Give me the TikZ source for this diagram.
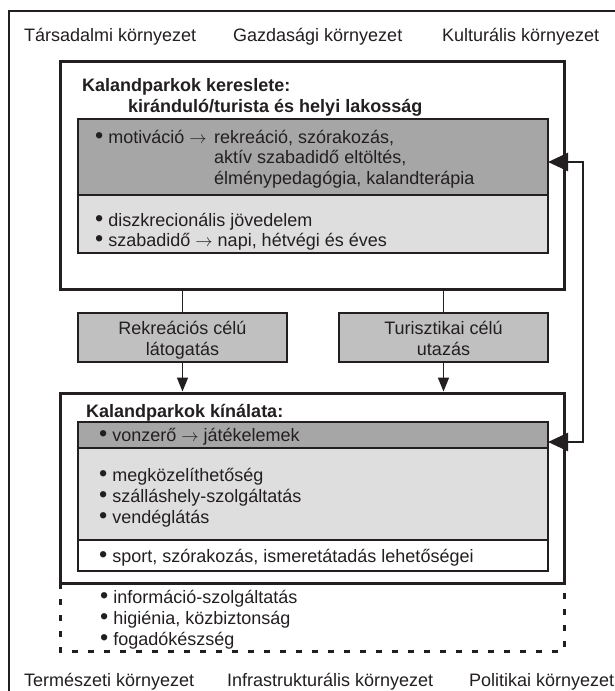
\documentclass[tikz,border=0pt]{standalone}
\usepackage{fontspec}
\setmainfont{Liberation Sans}
\usetikzlibrary{arrows.meta}
\definecolor{ink}{HTML}{231F20}
\definecolor{dgray}{HTML}{A6A6A6}
\definecolor{mgray}{HTML}{C0C0C0}
\definecolor{lgray}{HTML}{DEDEDE}
\newcommand{\bul}{\smash{\raisebox{-0.02em}{\scalebox{1.3}{•}}}}
\newcommand{\arr}{$\rightarrow$}
\begin{document}
\begin{tikzpicture}[x=1pt,y=-1pt,
  font=\fontsize{18}{20.5}\selectfont,
  bigbox/.style={draw=ink, line width=3pt, inner sep=0pt, outer sep=0pt, anchor=north west},
  inbox/.style={draw=ink, line width=1.8pt, inner sep=0pt, outer sep=0pt, anchor=north west},
  txt/.style={anchor=base west, inner sep=0pt, text=ink},
  ctxt/.style={anchor=base, inner sep=0pt, text=ink},
  conn/.style={draw=ink, line width=1.6pt},
  downarrow/.style={conn, -{Triangle[length=14pt,width=11pt]}, shorten >=1.5pt},
  fbarrow/.style={draw=ink, line width=2.6pt, {Triangle[length=20pt,width=18pt]}-{Triangle[length=20pt,width=18pt]}},
  dashline/.style={draw=ink, line width=3pt, dash pattern=on 6pt off 10pt}]
\useasboundingbox (0,0) rectangle (615,691);
\fill[white] (0,0) rectangle (615,691);

% outer frame (right and bottom lie outside the picture)
\coordinate (frtl) at (9,11);
\draw[ink, line width=2pt] (9,720) -- (frtl) -- (640,11);

% environment labels
\node[txt] (t1) at (24,41) {Társadalmi környezet};
\node[txt] (t2) at (233,41) {Gazdasági környezet};
\node[txt] (t3) at (442,41) {Kulturális környezet};
\node[txt] (b1) at (24,686) {Természeti környezet};
\node[txt] (b2) at (227,686) {Infrastrukturális környezet};
\node[txt] (b3) at (469,686) {Politikai környezet};

% demand box
\node[bigbox, minimum width=504pt, minimum height=228pt] (dem) at (60,61) {};
\node[txt, font=\fontsize{18}{20.5}\selectfont\bfseries] (dt1) at (82,91) {Kalandparkok kereslete:};
\node[txt, font=\fontsize{18}{20.5}\selectfont\bfseries] (dt2) at (128,112) {kiránduló/turista és helyi lakosság};
\node[inbox, fill=dgray, minimum width=470pt, minimum height=76pt] (dmot) at (78,119) {};
\node[inbox, fill=lgray, minimum width=470pt, minimum height=58pt] (dinc) at (78,195) {};
\node[txt] (m1) at (95,143) {\bul{} motiváció \arr};
\node[txt] (m2) at (214,143) {rekreáció, szórakozás,};
\node[txt] (m3) at (214,163) {aktív szabadidő eltöltés,};
\node[txt] (m4) at (214,184) {élménypedagógia, kalandterápia};
\node[txt] (i1) at (95,226) {\bul{} diszkrecionális jövedelem};
\node[txt] (i2) at (95,246) {\bul{} szabadidő \arr{} napi, hétvégi és éves};

% middle boxes
\node[inbox, fill=mgray, minimum width=209pt, minimum height=49pt] (rek) at (78,313) {};
\node[inbox, fill=mgray, minimum width=209pt, minimum height=49pt] (tur) at (339,313) {};
\node[ctxt] (r1) at (182.5,334) {Rekreációs célú};
\node[ctxt] (r2) at (182.5,355) {látogatás};
\node[ctxt] (u1) at (443.5,334) {Turisztikai célú};
\node[ctxt] (u2) at (443.5,355) {utazás};

% supply box
\node[bigbox, minimum width=504pt, minimum height=190pt] (sup) at (60,393) {};
\node[txt, font=\fontsize{18}{20.5}\selectfont\bfseries] (st) at (86,417) {Kalandparkok kínálata:};
\node[inbox, fill=dgray, minimum width=470pt, minimum height=26pt] (svon) at (78,422) {};
\node[inbox, fill=lgray, minimum width=470pt, minimum height=92pt] (sacc) at (78,448) {};
\node[inbox, fill=white, minimum width=470pt, minimum height=31pt] (sspo) at (78,540) {};
\node[txt] (v1) at (99,441) {\bul{} vonzerő \arr{} játékelemek};
\node[txt] (a1) at (99,481) {\bul{} megközelíthetőség};
\node[txt] (a2) at (99,502) {\bul{} szálláshely-szolgáltatás};
\node[txt] (a3) at (99,523) {\bul{} vendéglátás};
\node[txt] (p1) at (99,562) {\bul{} sport, szórakozás, ismeretátadás lehetőségei};

% dashed extension
\coordinate (dbot) at (0,651);
\draw[dashline] (sup.south west) -- (sup.south west |- dbot) -- (sup.south east |- dbot) -- (sup.south east);
\node[txt] (x1) at (100,603) {\bul{} információ-szolgáltatás};
\node[txt] (x2) at (100,624) {\bul{} higiénia, közbiztonság};
\node[txt] (x3) at (100,645) {\bul{} fogadókészség};

% connectors
\draw[conn] (dem.south -| rek.north) -- (rek.north);
\draw[conn] (dem.south -| tur.north) -- (tur.north);
\draw[downarrow] (rek.south) -- (rek.south |- sup.north);
\draw[downarrow] (tur.south) -- (tur.south |- sup.north);

% feedback arrow
\coordinate (fbt) at (583,162);
\coordinate (fbb) at (583,442);
\draw[fbarrow] (dmot.east |- fbt) -- (fbt) -- (fbb) -- (svon.east |- fbb);
\end{tikzpicture}
\end{document}
